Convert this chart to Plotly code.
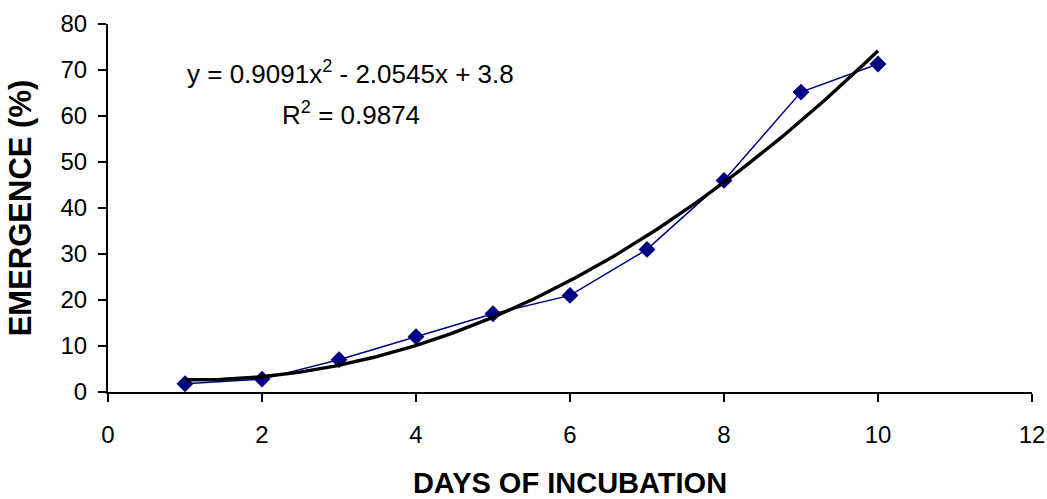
import numpy as np
import plotly.graph_objects as go

days = [1, 2, 3, 4, 5, 6, 7, 8, 9, 10]
emergence = [1.8, 2.8, 7.0, 12.0, 17.0, 21.0, 31.0, 46.0, 65.2, 71.3]
trend_coef = [0.9091, -2.0545, 3.8]  # displayed trendline coefficients
eq_text = "y = 0.9091x<sup>2</sup> - 2.0545x + 3.8"
r2_text = "R<sup>2</sup> = 0.9874"

tx = np.linspace(days[0], days[-1], 200)
ty = np.polyval(trend_coef, tx)

L, R, T, B = 108, 15, 24, 107
W, H = 1047, 499
pw, ph = W - L - R, H - T - B

def px2paper(x, y):
    return (x - L) / pw, 1 - (y - T) / ph

fig = go.Figure()
fig.add_trace(go.Scatter(x=days, y=emergence, mode="lines+markers",
                         line=dict(color="#000080", width=1.5),
                         marker=dict(symbol="diamond", size=13, color="#000080"),
                         showlegend=False))
fig.add_trace(go.Scatter(x=tx, y=ty, mode="lines",
                         line=dict(color="black", width=3.4),
                         showlegend=False))

font = "Liberation Sans, Arial, sans-serif"
ex, ey = px2paper(350, 72)
rx, ry = px2paper(351, 113)
fig.update_layout(
    width=W, height=H, autosize=False,
    margin=dict(l=L, r=R, t=T, b=B, autoexpand=False),
    plot_bgcolor="white", paper_bgcolor="white",
    font=dict(family=font, size=24, color="black"),
    xaxis=dict(range=[0, 12], tickvals=[0, 2, 4, 6, 8, 10, 12], showgrid=False,
               zeroline=False, showline=True, linecolor="black", linewidth=2,
               ticks="outside", ticklen=8, tickwidth=2, tickcolor="black",
               tickfont=dict(size=24), ticklabelstandoff=12, automargin=False,
               title=dict(text="<b>DAYS OF INCUBATION</b>", font=dict(size=29), standoff=26)),
    yaxis=dict(range=[0, 80], tickvals=list(range(0, 81, 10)), showgrid=False,
               zeroline=False, showline=True, linecolor="black", linewidth=2,
               ticks="outside", ticklen=8, tickwidth=2, tickcolor="black",
               tickfont=dict(size=24), ticklabelstandoff=6, automargin=False,
               title=dict(text="<b>EMERGENCE (%)</b>", font=dict(size=31), standoff=20)),
    annotations=[
        dict(x=ex, y=ey, xref="paper", yref="paper", text=eq_text, showarrow=False,
             xanchor="center", yanchor="middle", font=dict(size=26)),
        dict(x=rx, y=ry, xref="paper", yref="paper", text=r2_text, showarrow=False,
             xanchor="center", yanchor="middle", font=dict(size=26)),
    ],
)
fig.write_html("out.html")
